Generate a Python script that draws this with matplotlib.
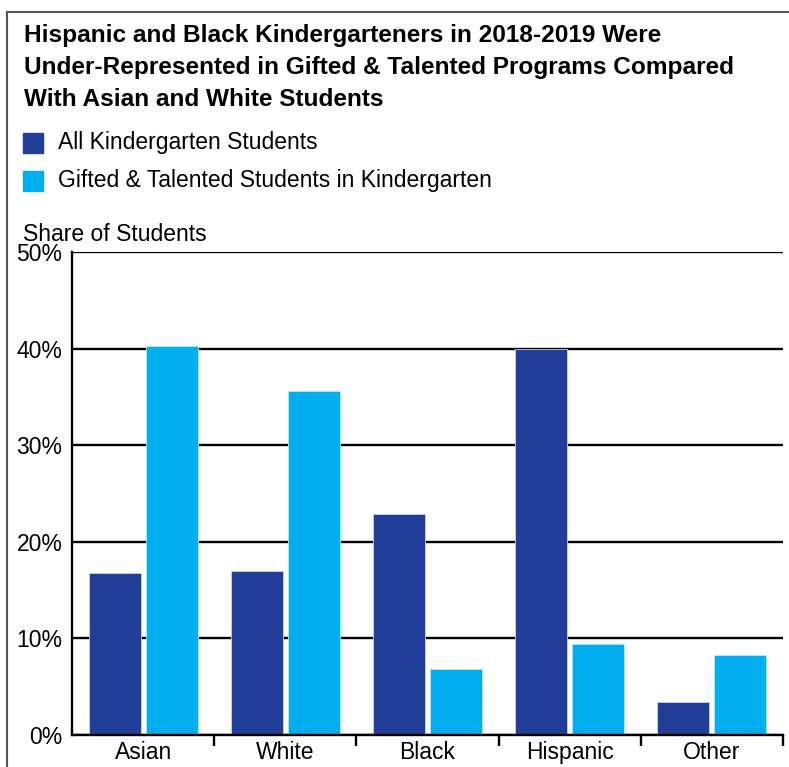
import matplotlib
matplotlib.use('Agg')
import matplotlib.pyplot as plt
from matplotlib.lines import Line2D
import numpy as np

plt.rcParams['font.family'] = ['Liberation Sans', 'DejaVu Sans']

categories = ['Asian', 'White', 'Black', 'Hispanic', 'Other']
all_students = [16.8, 17.0, 22.9, 40.0, 3.4]
gifted_students = [40.3, 35.6, 6.8, 9.4, 8.3]
series_names = ['All Kindergarten Students', 'Gifted & Talented Students in Kindergarten']
title_lines = ['Hispanic and Black Kindergarteners in 2018-2019 Were',
               'Under-Represented in Gifted & Talented Programs Compared',
               'With Asian and White Students']
dark_blue = '#213f99'
light_blue = '#00aeef'

W, H = 789, 767
fig = plt.figure(figsize=(W / 100, H / 100), dpi=100)
ax = fig.add_axes([72 / W, 1 - 735 / H, 711 / W, 483 / H])

x = np.arange(len(categories))
w = 0.366
ax.bar(x - 0.2, all_students, w, color=dark_blue, edgecolor='#c8d0ea', linewidth=0.6, zorder=3)
ax.bar(x + 0.2, gifted_students, w, color=light_blue, edgecolor='#b8e8fb', linewidth=0.6, zorder=3)

ax.set_xlim(-0.5, len(categories) - 0.5)
ax.set_ylim(0, 50)
ax.set_yticks(np.arange(0, 51, 10))
ax.set_yticklabels(['%d%%' % v for v in range(0, 51, 10)], fontsize=16.5)
ax.tick_params(axis='y', length=0, pad=7)
ax.yaxis.grid(True, color='black', linewidth=1.7, zorder=1)
ax.set_axisbelow(True)

ax.set_xticks(x)
ax.set_xticklabels(categories, fontsize=16.5)
ax.set_xticks(np.arange(0.5, len(categories), 1), minor=True)
ax.tick_params(axis='x', which='major', length=0, pad=4)
ax.tick_params(axis='x', which='minor', length=8, width=1.7, direction='out', color='black')

for s in ['top', 'right']:
    ax.spines[s].set_visible(False)
ax.spines['left'].set_linewidth(1.7)
ax.spines['bottom'].set_linewidth(1.7)
ax.spines['bottom'].set_zorder(4)

# title, one line at a time
for i, line in enumerate(title_lines):
    fig.text(24 / W, 1 - (42 + 32 * i) / H, line,
             fontsize=17.6, fontweight='bold', va='baseline', ha='left')

# legend
for i, (name, col) in enumerate(zip(series_names, [dark_blue, light_blue])):
    yc = 143 + i * 38
    fig.patches.append(plt.Rectangle((23 / W, 1 - (yc + 10) / H), 20 / W, 20 / H,
                                     transform=fig.transFigure, color=col, figure=fig))
    fig.text(58 / W, 1 - yc / H, name, fontsize=16.5, va='center', ha='left')

fig.text(23 / W, 1 - 234 / H, 'Share of Students', fontsize=16.5, va='center', ha='left')

# frame lines
fig.add_artist(Line2D([7 / W, 1], [1 - 12 / H, 1 - 12 / H], color='#555555', linewidth=1.5))
fig.add_artist(Line2D([7 / W, 7 / W], [0, 1 - 12 / H], color='#555555', linewidth=1.5))

fig.savefig('out.png', dpi=100)
